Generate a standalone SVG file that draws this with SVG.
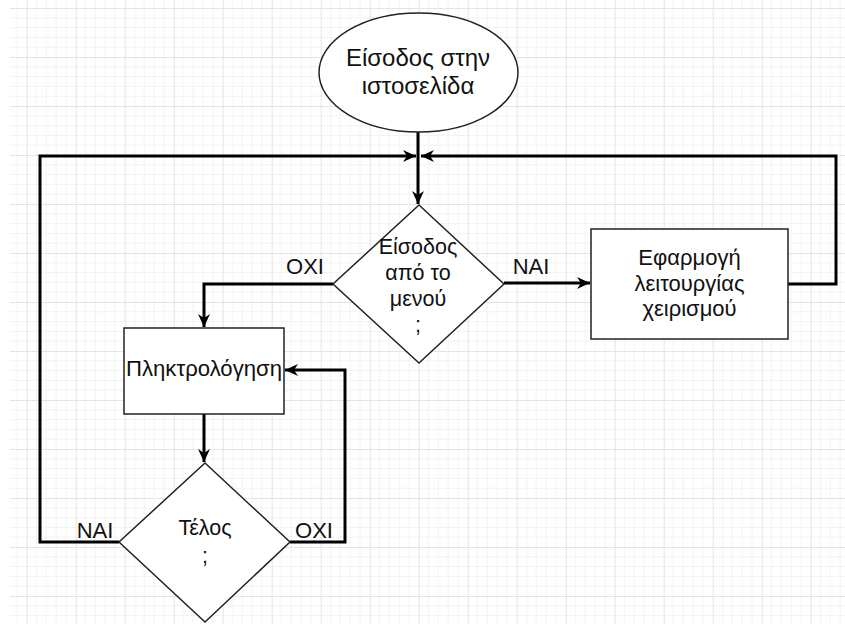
<svg xmlns="http://www.w3.org/2000/svg" width="845" height="624" viewBox="0 0 845 624">
<defs>
<pattern id="grid" patternUnits="userSpaceOnUse" x="26.7" y="8" width="49" height="49">
<path d="M9.8,0V49M19.6,0V49M29.4,0V49M39.2,0V49M0,9.8H49M0,19.6H49M0,29.4H49M0,39.2H49" stroke="#f2f2f2" stroke-width="1" fill="none"/>
<path d="M0.5,0V49M0,0.5H49" stroke="#e4e4e4" stroke-width="1" fill="none"/>
</pattern>
<marker id="arr" markerUnits="userSpaceOnUse" markerWidth="14" markerHeight="14" refX="13" refY="7" orient="auto">
<path d="M0,1 L13,7 L0,13 L4,7 Z" fill="#000"/>
</marker>
</defs>
<style>
.shape{fill:#fff;stroke:#222;stroke-width:1.5}
.t{font-family:"Liberation Sans",Arial,sans-serif;font-size:21.5px;fill:#111;text-anchor:middle}
.big{font-size:24px}
.mid{font-size:22px}
.lbl{font-family:"Liberation Sans",Arial,sans-serif;font-size:22px;fill:#111;text-anchor:middle}
.c{fill:none;stroke:#000;stroke-width:3}
</style>
<rect x="0" y="0" width="845" height="624" fill="#fff"/>
<rect x="10" y="0" width="835" height="624" fill="url(#grid)"/>
<g id="connectors">
<path class="c" d="M418,132 V204" marker-end="url(#arr)"/>
<path class="c" d="M119,542 H40 V156 H416" marker-end="url(#arr)"/>
<path class="c" d="M788,284 H836 V156 H421" marker-end="url(#arr)"/>
<path class="c" d="M504,283 H590" marker-end="url(#arr)"/>
<path class="c" d="M333,284 H204 V327" marker-end="url(#arr)"/>
<path class="c" d="M204,414 V462" marker-end="url(#arr)"/>
<path class="c" d="M290,542 H345 V370 H285" marker-end="url(#arr)"/>
<text class="lbl" x="305" y="274">ΟΧΙ</text>
<text class="lbl" x="531" y="274">ΝΑΙ</text>
<text class="lbl" x="95" y="538">ΝΑΙ</text>
<text class="lbl" x="314" y="538">ΟΧΙ</text>
</g>
<g id="start">
<ellipse class="shape" cx="418.5" cy="72.5" rx="99.5" ry="59.5"/>
<text class="t big" x="418" y="66">Είσοδος στην</text>
<text class="t big" x="418" y="94">ιστοσελίδα</text>
</g>
<g id="menu-decision">
<polygon class="shape" points="419,205 504,284 419,363 333,284"/>
<text class="t" x="418" y="254">Είσοδος</text>
<text class="t" x="418" y="280">από το</text>
<text class="t" x="418" y="306">μενού</text>
<text class="t" x="418" y="332">;</text>
</g>
<g id="apply">
<rect class="shape" x="591" y="229" width="197" height="110"/>
<text class="t mid" x="689.5" y="265">Εφαρμογή</text>
<text class="t mid" x="689.5" y="291">λειτουργίας</text>
<text class="t mid" x="689.5" y="316">χειρισμού</text>
</g>
<g id="typing">
<rect class="shape" x="124" y="328" width="160" height="86"/>
<text class="t" x="204" y="376" textLength="156" lengthAdjust="spacingAndGlyphs">Πληκτρολόγηση</text>
</g>
<g id="end-decision">
<polygon class="shape" points="205,463 290,542 205,622 119,542"/>
<text class="t" x="205" y="535">Τέλος</text>
<text class="t" x="205" y="563">;</text>
</g>
</svg>
